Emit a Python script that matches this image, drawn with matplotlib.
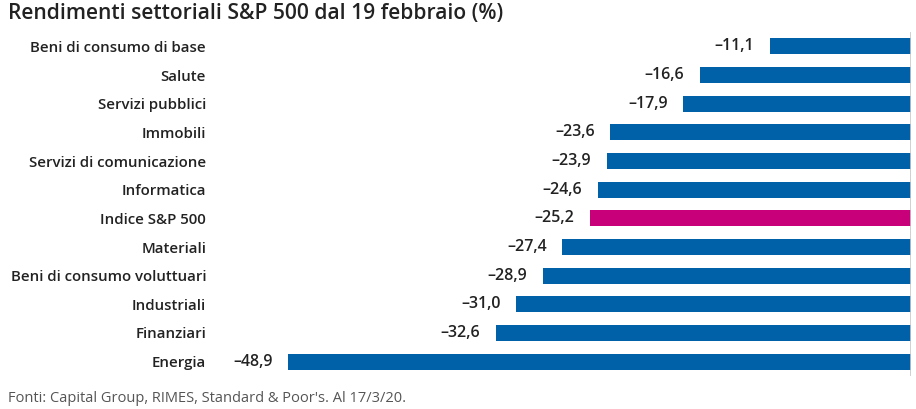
import matplotlib
matplotlib.use("Agg")
import matplotlib.pyplot as plt

categories = ["Beni di consumo di base", "Salute", "Servizi pubblici", "Immobili",
              "Servizi di comunicazione", "Informatica", "Indice S&P 500", "Materiali",
              "Beni di consumo voluttuari", "Industriali", "Finanziari", "Energia"]
values = [-11.1, -16.6, -17.9, -23.6, -23.9, -24.6, -25.2, -27.4, -28.9, -31.0, -32.6, -48.9]
highlight = "Indice S&P 500"

BLUE = "#0061a8"
MAGENTA = "#c8007a"
FONT = ["Open Sans", "DejaVu Sans"]

plt.rcParams["font.family"] = FONT

fig = plt.figure(figsize=(9.16, 4.09), dpi=100)
ax = fig.add_axes([220/916, 33/409, 691/916, 344/409])

colors = [MAGENTA if c == highlight else BLUE for c in categories]
ypos = list(range(len(categories)))
ax.barh(ypos, values, height=0.56, color=colors, zorder=2)

ax.set_xlim(-54.24, 0.0)
ax.set_ylim(len(categories) - 0.5, -0.5)
ax.axvline(0, color="#c8c8c8", lw=1.2, zorder=3)

for s in ax.spines.values():
    s.set_visible(False)
ax.set_xticks([])
ax.set_yticks(ypos)
ax.set_yticklabels(categories, fontsize=10.8, fontweight="semibold", color="#222222")
ax.tick_params(axis="y", length=0, pad=10)

for y, v in zip(ypos, values):
    ax.annotate(("%.1f" % v).replace("-", "\u2013").replace(".", ","),
                xy=(v, y), xytext=(-11, 0), textcoords="offset points",
                ha="right", va="center", fontsize=11.5, fontweight="semibold",
                color="#222222")

fig.text(8/916, 1 - 14/409, "Rendimenti settoriali S&P 500 dal 19 febbraio (%)",
         fontsize=15.1, fontweight="semibold", color="#222222", ha="left", va="center")
fig.text(8/916, 1 - 398/409, "Fonti: Capital Group, RIMES, Standard & Poor's. Al 17/3/20.",
         fontsize=10.5, color="#555555", ha="left", va="center")

fig.savefig("out.png", dpi=100)
